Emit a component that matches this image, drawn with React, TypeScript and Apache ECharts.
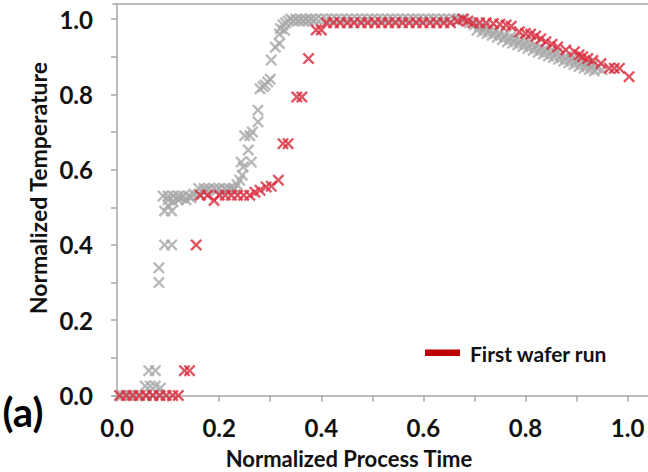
import React, { useEffect, useRef } from "react";
import * as echarts from "echarts";

// Normalized process time / normalized temperature
const firstWaferRun: [number, number][] = [
  [0.005, 0], [0.018, 0], [0.031, 0], [0.044, 0], [0.057, 0], [0.07, 0], [0.083, 0], [0.096, 0], [0.109, 0], [0.12, 0],
  [0.132, 0.066], [0.142, 0.066],
  [0.155, 0.4],
  [0.163, 0.532], [0.177, 0.532], [0.19, 0.518], [0.2, 0.532], [0.212, 0.532], [0.224, 0.532], [0.236, 0.532], [0.248, 0.532], [0.26, 0.532],
  [0.27, 0.54], [0.28, 0.545], [0.292, 0.554], [0.302, 0.556], [0.316, 0.572],
  [0.325, 0.669], [0.335, 0.669],
  [0.352, 0.793], [0.362, 0.793],
  [0.375, 0.895],
  [0.39, 0.971], [0.4, 0.971],
  [0.41, 0.99], [0.424, 0.99], [0.437, 0.99], [0.451, 0.99], [0.464, 0.99], [0.478, 0.99], [0.491, 0.99], [0.505, 0.99],
  [0.518, 0.99], [0.532, 0.99], [0.545, 0.99], [0.559, 0.99], [0.572, 0.99], [0.586, 0.99], [0.599, 0.99], [0.613, 0.99],
  [0.626, 0.99], [0.64, 0.99], [0.653, 0.99], [0.667, 0.995], [0.677, 1.0], [0.687, 0.995],
  [0.697, 0.99], [0.71, 0.99], [0.723, 0.99], [0.737, 0.988], [0.75, 0.986], [0.762, 0.984], [0.772, 0.981],
  [0.788, 0.966], [0.8, 0.962], [0.81, 0.96], [0.82, 0.955], [0.83, 0.948], [0.84, 0.94], [0.852, 0.933], [0.863, 0.926],
  [0.879, 0.918], [0.896, 0.913], [0.905, 0.905], [0.912, 0.9], [0.922, 0.895], [0.932, 0.89], [0.948, 0.882],
  [0.964, 0.869], [0.974, 0.869], [0.984, 0.869], [1.003, 0.847],
];

const otherRuns: [number, number][] = [
  [0.01, 0], [0.025, 0], [0.04, 0], [0.055, 0], [0.07, 0], [0.085, 0],
  [0.055, 0.025], [0.065, 0.025], [0.075, 0.025], [0.085, 0.02],
  [0.062, 0.066], [0.075, 0.066],
  [0.082, 0.3], [0.082, 0.339], [0.093, 0.4], [0.107, 0.4],
  [0.093, 0.49], [0.1, 0.505], [0.107, 0.49], [0.1, 0.52], [0.11, 0.515], [0.12, 0.52], [0.125, 0.525], [0.135, 0.52], [0.145, 0.525],
  [0.09, 0.53], [0.1, 0.53], [0.11, 0.53], [0.12, 0.53], [0.13, 0.53], [0.14, 0.53], [0.15, 0.535], [0.16, 0.535], [0.17, 0.54],
  [0.16, 0.55], [0.17, 0.55], [0.18, 0.55], [0.19, 0.55], [0.2, 0.55], [0.21, 0.55], [0.22, 0.55], [0.23, 0.55],
  [0.175, 0.545], [0.195, 0.545], [0.215, 0.545],
  [0.228, 0.545], [0.235, 0.56], [0.24, 0.572], [0.245, 0.585], [0.247, 0.607], [0.243, 0.62], [0.263, 0.62],
  [0.257, 0.652], [0.25, 0.69], [0.26, 0.69], [0.265, 0.7], [0.276, 0.727], [0.276, 0.758],
  [0.28, 0.815], [0.286, 0.82], [0.29, 0.825], [0.295, 0.833], [0.3, 0.84], [0.302, 0.891],
  [0.31, 0.925], [0.318, 0.935], [0.318, 0.96], [0.328, 0.97], [0.32, 0.975], [0.325, 0.985], [0.33, 0.99],
  [0.34, 1.0], [0.35, 1.0], [0.36, 1.0], [0.37, 1.0], [0.38, 1.0], [0.39, 1.0], [0.4, 1.0], [0.41, 1.0], [0.42, 1.0],
  [0.43, 1.0], [0.44, 1.0], [0.45, 1.0], [0.46, 1.0], [0.47, 1.0], [0.48, 1.0], [0.49, 1.0], [0.5, 1.0], [0.51, 1.0],
  [0.52, 1.0], [0.53, 1.0], [0.54, 1.0], [0.55, 1.0], [0.56, 1.0], [0.57, 1.0], [0.58, 1.0], [0.59, 1.0], [0.6, 1.0],
  [0.61, 1.0], [0.62, 1.0], [0.63, 1.0], [0.64, 1.0], [0.65, 1.0], [0.66, 1.0], [0.67, 1.0], [0.68, 1.0],
  [0.335, 0.995], [0.345, 0.995], [0.355, 0.995], [0.365, 0.995], [0.375, 0.995], [0.385, 0.995],
  [0.69, 0.99], [0.7, 0.985], [0.71, 0.98], [0.72, 0.978], [0.73, 0.972], [0.74, 0.968], [0.75, 0.962], [0.76, 0.956],
  [0.77, 0.952], [0.78, 0.948], [0.79, 0.944], [0.8, 0.94], [0.81, 0.936], [0.82, 0.93], [0.83, 0.925], [0.84, 0.92],
  [0.85, 0.915], [0.86, 0.91], [0.87, 0.905], [0.88, 0.9], [0.89, 0.895], [0.9, 0.89], [0.91, 0.885], [0.92, 0.88],
  [0.93, 0.875], [0.94, 0.87], [0.95, 0.865],
  [0.705, 0.97], [0.715, 0.966], [0.725, 0.962], [0.735, 0.957], [0.745, 0.952], [0.755, 0.946], [0.765, 0.94],
  [0.775, 0.936], [0.785, 0.932], [0.795, 0.927], [0.805, 0.922], [0.815, 0.917], [0.825, 0.912], [0.835, 0.907],
  [0.845, 0.902], [0.855, 0.898], [0.865, 0.893], [0.875, 0.888], [0.885, 0.884], [0.895, 0.879], [0.905, 0.874],
  [0.915, 0.87], [0.925, 0.866], [0.935, 0.862],
];

const tickValues = [0, 0.1, 0.2, 0.3, 0.4, 0.5, 0.6, 0.7, 0.8, 0.9, 1.0];
const labelValues = [0, 0.2, 0.4, 0.6, 0.8, 1.0];

const seriesNames = ["First wafer run", "Other runs"];

const X_MARK =
  "path://M0,1.4L1.4,0L5,3.6L8.6,0L10,1.4L6.4,5L10,8.6L8.6,10L5,6.4L1.4,10L0,8.6L3.6,5Z";

const FONT = "Lato, 'Open Sans', sans-serif";

export default function App() {
  const ref = useRef<HTMLDivElement>(null);
  useEffect(() => {
    if (!ref.current) return;
    const chart = echarts.init(ref.current, undefined, { renderer: "svg" });
    const axisColor = "#a6a6a6";
    const labelStyle = {
      color: "#111",
      fontFamily: FONT,
      fontWeight: "bold" as const,
      fontSize: 24,
    };
    chart.setOption({
      animation: false,
      grid: { left: 113, top: 4, right: 0, bottom: 72 },
      xAxis: [
        {
          type: "value",
          min: -0.008,
          max: 1.04,
          splitLine: { show: false },
          axisLine: { show: true, lineStyle: { color: axisColor, width: 1.5 } },
          axisTick: { show: true, customValues: tickValues, length: 6, lineStyle: { color: axisColor, width: 1.5 } },
          axisLabel: {
            customValues: labelValues,
            formatter: (v: number) => v.toFixed(1),
            margin: 15,
            ...labelStyle,
          },
        },
        {
          type: "value",
          position: "top",
          min: -0.008,
          max: 1.04,
          splitLine: { show: false },
          axisLine: { show: true, lineStyle: { color: axisColor, width: 1.5 } },
          axisTick: { show: false },
          axisLabel: { show: false },
        },
      ],
      yAxis: {
        type: "value",
        min: -0.012,
        max: 1.04,
        splitLine: { show: false },
        axisLine: { show: true, lineStyle: { color: axisColor, width: 1.5 } },
        axisTick: { show: true, customValues: tickValues, length: 6, lineStyle: { color: axisColor, width: 1.5 } },
        axisLabel: {
          customValues: labelValues,
          formatter: (v: number) => v.toFixed(1),
          margin: 20,
          ...labelStyle,
        },
      },
      series: [
        {
          name: seriesNames[1],
          type: "scatter",
          data: otherRuns,
          symbol: X_MARK,
          symbolSize: 12,
          itemStyle: { color: "#a8a8a8" },
          z: 2,
        },
        {
          name: seriesNames[0],
          type: "scatter",
          data: firstWaferRun,
          symbol: X_MARK,
          symbolSize: 12,
          itemStyle: { color: "#d82b3c" },
          z: 3,
        },
      ],
      graphic: [
        {
          type: "text",
          x: 38,
          y: 188,
          rotation: Math.PI / 2,
          style: {
            text: "Normalized Temperature",
            fill: "#111",
            fontFamily: FONT,
            fontWeight: "bold",
            fontSize: 23,
            align: "center",
            verticalAlign: "middle",
          },
        },
        {
          type: "text",
          x: 349,
          y: 458,
          style: {
            text: "Normalized Process Time",
            fill: "#111",
            fontFamily: FONT,
            fontWeight: "bold",
            fontSize: 22,
            align: "center",
            verticalAlign: "middle",
          },
        },
        {
          type: "text",
          x: 23,
          y: 412,
          style: {
            text: "(a)",
            fill: "#000",
            fontFamily: FONT,
            fontWeight: "bold",
            fontSize: 40,
            align: "center",
            verticalAlign: "middle",
          },
        },
        {
          type: "rect",
          shape: { x: 425, y: 349.5, width: 35, height: 6.5 },
          style: { fill: "#c00000" },
        },
        {
          type: "text",
          x: 470,
          y: 353.5,
          style: {
            text: seriesNames[0],
            fill: "#111",
            fontFamily: FONT,
            fontWeight: "bold",
            fontSize: 21,
            align: "left",
            verticalAlign: "middle",
          },
        },
      ],
    });
    return () => chart.dispose();
  }, []);
  return (
    <div
      ref={ref}
      style={{ position: "fixed", left: 0, top: 0, width: 648, height: 472, background: "#fff" }}
    />
  );
}
